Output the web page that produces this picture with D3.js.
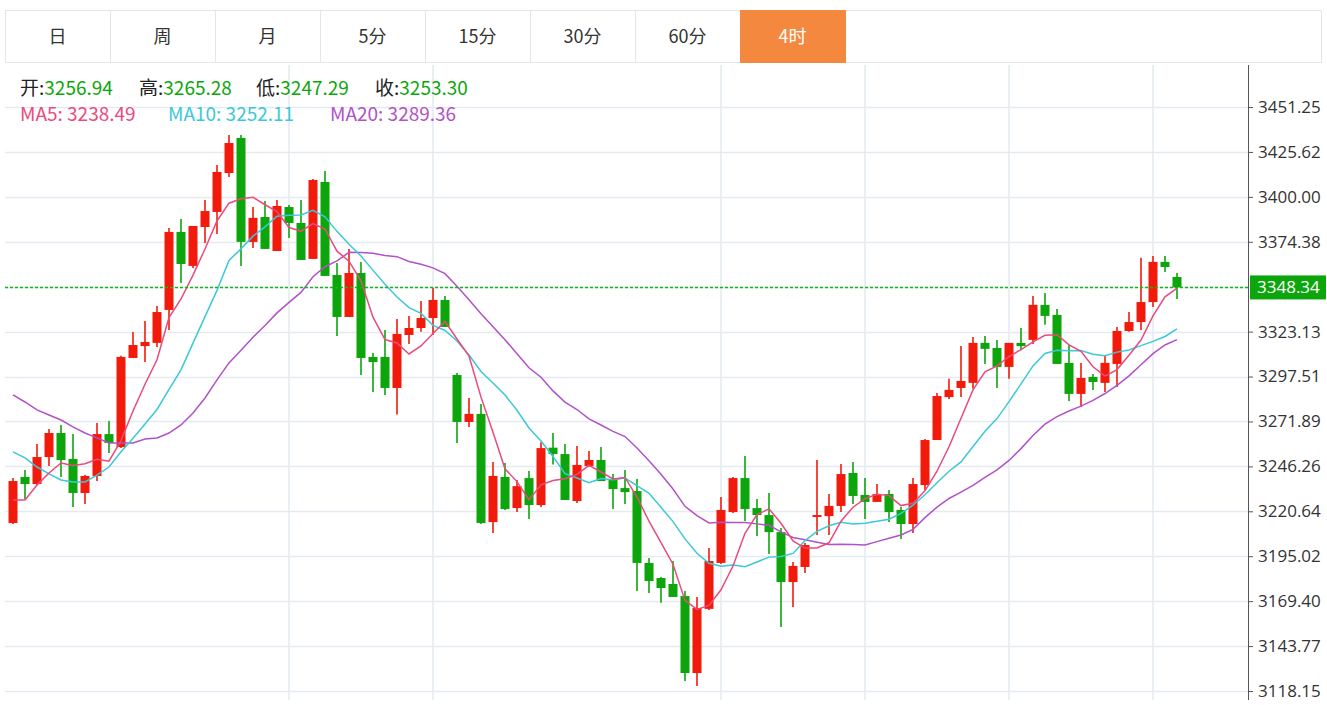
<!DOCTYPE html>
<html>
<head>
<meta charset="utf-8">
<script src="https://cdn.jsdelivr.net/npm/d3@7"></script>
<style>
  body { margin: 0; background: #fff; font-family: "Noto Sans CJK SC", "Noto Sans", sans-serif; }
</style>
</head>
<body>
<div id="wrapper"></div>
<script>
const tabs = ['日', '周', '月', '5分', '15分', '30分', '60分', '4时'];
const activeTab = '4时';

const opens = [3214.0,3240.2,3236.2,3251.6,3265.3,3250.5,3231.1,3240.8,3264.7,3257.3,
  3308.1,3314.9,3316.7,3335.5,3380.0,3360.6,3382.8,3391.4,3413.6,3433.6,
  3374.3,3388.5,3369.1,3394.2,3385.1,3364.6,3408.5,3355.4,3331.5,3356.6,
  3308.7,3308.7,3291.0,3321.2,3325.2,3330.9,3341.2,3298.4,3271.6,3276.2,
  3214.5,3240.2,3222.5,3239.6,3224.2,3256.94,3253.3,3226.5,3246.5,3249.9,
  3239.0,3233.9,3232.2,3191.2,3182.6,3179.2,3172.3,3128.4,3165.0,3191.2,
  3220.2,3239.6,3222.5,3218.5,3208.8,3180.3,3188.9,3217.4,3217.9,3223.7,
  3242.5,3230.0,3226.0,3230.5,3221.4,3213.4,3235.6,3261.3,3285.8,3291.0,
  3293.9,3316.7,3313.8,3303.0,3316.7,3318.4,3338.4,3332.7,3305.3,3287.6,
  3297.3,3293.9,3304.7,3323.5,3328.6,3340.0,3362.9,3354.3];
const highs = [3239.6,3244.2,3259.0,3267.6,3269.9,3264.7,3241.3,3271.0,3272.2,3309.3,
  3322.9,3329.2,3337.8,3382.2,3387.4,3383.4,3398.2,3418.2,3435.3,3435.3,
  3394.2,3397.6,3398.2,3395.4,3398.2,3410.2,3414.8,3362.3,3370.3,3362.9,
  3311.0,3324.1,3330.4,3332.1,3340.6,3348.1,3343.5,3299.5,3285.3,3281.9,
  3248.7,3248.2,3238.5,3243.6,3260.1,3265.28,3259.0,3257.9,3255.0,3257.3,
  3241.9,3244.2,3239.0,3194.0,3183.2,3192.3,3175.2,3171.8,3199.7,3228.8,
  3240.2,3252.2,3227.7,3231.1,3211.1,3191.7,3202.6,3249.9,3230.5,3247.6,
  3248.7,3239.6,3236.2,3232.8,3223.1,3239.6,3261.9,3288.1,3296.2,3314.9,
  3320.1,3320.7,3318.4,3316.7,3325.2,3343.5,3345.2,3336.1,3315.5,3305.3,
  3299.0,3309.3,3325.8,3334.3,3365.2,3366.3,3366.3,3356.6];
const lows = [3213.4,3227.7,3235.6,3246.5,3240.2,3223.1,3224.8,3237.9,3253.9,3256.7,
  3308.1,3305.8,3314.4,3324.1,3350.9,3359.4,3373.7,3378.8,3411.3,3360.6,
  3370.8,3370.3,3369.1,3376.6,3364.0,3364.6,3354.9,3320.7,3331.5,3298.4,
  3288.7,3287.0,3275.8,3316.1,3323.0,3321.2,3325.8,3259.6,3268.8,3213.4,
  3208.3,3221.4,3220.2,3216.3,3223.1,3247.29,3227.1,3225.4,3245.9,3237.9,
  3222.0,3224.8,3175.2,3174.1,3168.5,3171.8,3123.9,3121.0,3164.4,3190.6,
  3219.7,3215.1,3206.6,3196.3,3154.7,3166.1,3185.5,3207.1,3207.1,3220.2,
  3224.8,3216.3,3226.0,3214.5,3204.9,3208.3,3232.8,3261.3,3284.7,3285.8,
  3290.5,3304.7,3291.0,3296.2,3312.7,3316.1,3327.0,3304.7,3283.6,3280.1,
  3289.9,3288.7,3291.6,3323.0,3324.1,3337.2,3357.2,3341.8];
const closes = [3237.9,3236.2,3251.6,3265.3,3249.9,3231.1,3240.8,3264.7,3259.6,3308.7,
  3315.5,3317.2,3334.3,3380.0,3361.7,3383.4,3391.9,3414.2,3430.7,3374.3,
  3388.0,3370.3,3394.8,3385.1,3364.0,3409.6,3354.9,3331.5,3356.6,3308.1,
  3305.8,3291.0,3321.8,3325.2,3330.9,3341.2,3325.8,3271.6,3276.2,3214.0,
  3240.8,3221.9,3235.0,3224.2,3256.7,3253.30,3227.1,3247.1,3249.9,3237.9,
  3233.3,3231.6,3191.2,3180.9,3176.9,3171.8,3128.4,3165.5,3192.3,3221.4,
  3239.6,3221.9,3218.5,3208.8,3180.3,3189.5,3201.4,3218.5,3223.7,3241.9,
  3229.4,3226.0,3230.5,3220.2,3213.4,3236.2,3261.3,3286.4,3289.9,3295.0,
  3316.7,3313.3,3303.0,3316.7,3314.9,3338.4,3332.1,3304.7,3287.6,3296.7,
  3294.4,3305.3,3323.5,3328.6,3340.0,3362.9,3360.0,3348.34];

// MA values before a full window is available
const ma5Head = [3227.1, 3227.1, 3235.6, 3242.5];
const ma10Head = [3254.5, 3251.1, 3245.9, 3242.0, 3238.5, 3237.4, 3237.4, 3241.3, 3245.9];
const ma20Head = [3287.0, 3283.0, 3278.5, 3275.6, 3272.7, 3268.8, 3265.3, 3262.5, 3259.6, 3259.6,
  3259.6, 3261.9, 3262.5, 3265.3, 3269.9, 3276.7, 3285.3, 3295.6, 3305.3];

const yTicks = [3451.25, 3425.62, 3400.00, 3374.38, 3323.13, 3297.51, 3271.89, 3246.26, 3220.64, 3195.02, 3169.40, 3143.77, 3118.15];
const vGridIndex = [23, 35, 59, 71, 83, 95];
const lastPrice = 3348.34;

const width = 1327;
const height = 705;
const plot = { left: 5, right: 1248, top: 65, bottom: 700 };

const red = '#f21b0b';
const green = '#0ca60c';

const svg = d3.select('#wrapper').append('svg')
  .attr('width', width).attr('height', height)
  .style('font-family', '"Noto Sans CJK SC", "Noto Sans", sans-serif');

// tabs
const tabW = 105;
const tabG = svg.append('g');
tabG.append('rect').attr('x', 5.5).attr('y', 10.5).attr('width', width - 11).attr('height', 52)
  .attr('fill', 'none').attr('stroke', '#e5e5e5');
tabs.forEach((t, i) => {
  const active = t === activeTab;
  tabG.append('rect')
    .attr('x', 5.5 + i * tabW).attr('y', 10.5).attr('width', tabW).attr('height', 52)
    .attr('fill', active ? '#f5883f' : '#fff').attr('stroke', active ? '#f5883f' : '#e5e5e5');
  tabG.append('text')
    .attr('x', 5 + i * tabW + tabW / 2).attr('y', 43)
    .attr('text-anchor', 'middle').style('font-size', '18px')
    .attr('fill', active ? '#fff' : '#333').text(t);
});

const n = closes.length;
const xScale = d3.scaleLinear().domain([0, n - 1]).range([13, 1177]);
const yScale = d3.scaleLinear().domain([3118.15, 3451.25]).range([691, 107]);

// grid
const grid = svg.append('g');
grid.selectAll('.h').data(yTicks.concat([lastPrice + 0.42])).join('line')
  .attr('x1', plot.left).attr('x2', plot.right)
  .attr('y1', d => Math.round(yScale(d)) + 0.5).attr('y2', d => Math.round(yScale(d)) + 0.5)
  .attr('stroke', '#e3eaf1').attr('stroke-width', 1.5);
grid.selectAll('.v').data(vGridIndex).join('line')
  .attr('x1', d => xScale(d)).attr('x2', d => xScale(d))
  .attr('y1', plot.top).attr('y2', plot.bottom)
  .attr('stroke', '#e3eaf1').attr('stroke-width', 1.5);

// axis
const axis = svg.append('g').attr('transform', `translate(${plot.right},0)`)
  .call(d3.axisRight(yScale).tickValues(yTicks).tickFormat(d3.format('.2f')).tickSize(5));
axis.select('.domain').attr('d', `M0.5,${plot.top}V${plot.bottom}`).attr('stroke', '#555');
axis.selectAll('.tick line').attr('stroke', '#555');
axis.selectAll('.tick text').attr('x', 10).style('font-size', '17px')
  .style('font-family', '"Open Sans", "Noto Sans", sans-serif').attr('fill', '#333');

// candles
const candles = svg.append('g');
const bodyW = 9;
d3.range(n).forEach(i => {
  const up = closes[i] >= opens[i];
  const col = up ? red : green;
  const x = xScale(i);
  candles.append('line')
    .attr('x1', x).attr('x2', x)
    .attr('y1', yScale(highs[i])).attr('y2', yScale(lows[i]))
    .attr('stroke', col).attr('stroke-width', 1.6);
  const top = yScale(Math.max(opens[i], closes[i]));
  const bot = yScale(Math.min(opens[i], closes[i]));
  candles.append('rect')
    .attr('x', x - bodyW / 2).attr('y', top)
    .attr('width', bodyW).attr('height', Math.max(1.5, bot - top))
    .attr('fill', col);
});

// moving averages
const maSeries = (len, head) => d3.range(n).map(i =>
  i < len - 1 ? head[i] : d3.mean(closes.slice(i - len + 1, i + 1)));
const lineGen = d3.line().x((d, i) => xScale(i)).y(d => yScale(d));
[[20, ma20Head, '#b152c8'], [10, ma10Head, '#3cc8d8'], [5, ma5Head, '#ea4a7c']].forEach(([len, head, col]) => {
  svg.append('path').datum(maSeries(len, head))
    .attr('d', lineGen).attr('fill', 'none').attr('stroke', col).attr('stroke-width', 1.5);
});

// last price line + label
svg.append('line')
  .attr('x1', plot.left).attr('x2', plot.right)
  .attr('y1', yScale(lastPrice)).attr('y2', yScale(lastPrice))
  .attr('stroke', '#11b811').attr('stroke-width', 1.5).attr('stroke-dasharray', '3,2');
svg.append('rect').attr('x', plot.right + 2).attr('y', yScale(lastPrice) - 12)
  .attr('width', 76).attr('height', 24).attr('fill', green);
svg.append('text').attr('x', plot.right + 9).attr('y', yScale(lastPrice) + 6)
  .attr('fill', '#fff').style('font-size', '17px')
  .style('font-family', '"Open Sans", "Noto Sans", sans-serif').text(lastPrice.toFixed(2));

// info header
const h = 45;
const infoX = [20, 139, 256, 375];
[['开:', opens[h]], ['高:', highs[h]], ['低:', lows[h]], ['收:', closes[h]]].forEach(([k, v], i) => {
  const t = svg.append('text').attr('x', infoX[i]).attr('y', 95).style('font-size', '19px');
  t.append('tspan').attr('fill', '#222').text(k);
  t.append('tspan').attr('fill', green).text(v.toFixed(2));
});
const maX = [20, 168, 330];
[['MA5:', 3238.49, '#ea4a7c'], ['MA10:', 3252.11, '#3cc8d8'], ['MA20:', 3289.36, '#b152c8']].forEach(([k, v, c], i) => {
  svg.append('text').attr('x', maX[i]).attr('y', 121).style('font-size', '19px')
    .attr('fill', c).text(k + '\u00a0' + v.toFixed(2));
});
</script>
</body>
</html>
